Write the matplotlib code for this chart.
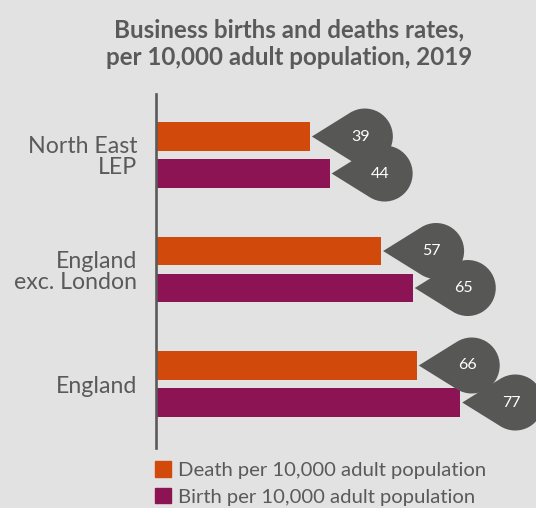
import numpy as np
import matplotlib.pyplot as plt
from matplotlib.path import Path
from matplotlib.patches import PathPatch, Patch
from matplotlib.transforms import ScaledTranslation

areas = ["North East\nLEP", "England\nexc. London", "England"]
deaths = [39, 57, 66]
births = [44, 65, 77]
legend_labels = ["Death per 10,000 adult population", "Birth per 10,000 adult population"]

BG = "#e2e2e2"
ORANGE = "#d24a0b"
PURPLE = "#8c1455"
BUBBLE = "#575756"
TEXT = "#5a5a5a"

plt.rcParams["font.family"] = ["Lato", "DejaVu Sans"]

W, H = 536, 508
fig = plt.figure(figsize=(W / 100, H / 100), dpi=100, facecolor=BG)
ax = fig.add_axes([155.5 / W, (H - 448) / H, 380 / W, 354 / H], facecolor=BG)

y = np.arange(len(areas))
off = 0.1616
bh = 0.253
ax.barh(y - off, deaths, height=bh, color=ORANGE, zorder=2)
ax.barh(y + off, births, height=bh, color=PURPLE, zorder=2)

ax.set_xlim(0, 96)
ax.set_ylim(2.559, -0.533)
for s in ["top", "right", "bottom"]:
    ax.spines[s].set_visible(False)
ax.spines["left"].set_color(TEXT)
ax.spines["left"].set_linewidth(1.9)
ax.spines["left"].set_zorder(3)
ax.set_xticks([])
ax.set_yticks(y)
ax.set_yticklabels(areas, fontsize=16.7, color=TEXT, linespacing=1.0)
ax.tick_params(axis="y", length=0, pad=13)

# teardrop callout: tip at origin, circle to the right (inches)
r, d = 0.28, 0.53
a = np.degrees(np.arccos(r / d))
arc = Path.arc(-(180 - a), 180 - a)
verts = [(0, 0)] + [(d + r * vx, r * vy) for vx, vy in arc.vertices] + [(0, 0)]
codes = [Path.MOVETO, Path.LINETO] + list(arc.codes[1:]) + [Path.CLOSEPOLY]
drop = Path(verts, codes)


def callout(val, ypos):
    tr = fig.dpi_scale_trans + ScaledTranslation(val + 0.5, ypos, ax.transData)
    ax.add_patch(PathPatch(drop, transform=tr, facecolor=BUBBLE,
                           edgecolor="none", clip_on=False, zorder=4))
    ax.annotate(str(val), (val + 0.5, ypos), xytext=(35, 0), textcoords="offset points",
                ha="center", va="center", color="white", fontsize=11.5, zorder=5)


for i in range(len(areas)):
    callout(deaths[i], y[i] - off)
    callout(births[i], y[i] + off)

fig.text(289 / W, 1 - 37 / H, "Business births and deaths rates,", ha="center",
         va="baseline", fontsize=17.4, fontweight="bold", color=TEXT)
fig.text(289 / W, 1 - 65 / H, "per 10,000 adult population, 2019", ha="center",
         va="baseline", fontsize=17.4, fontweight="bold", color=TEXT)

handles = [Patch(color=ORANGE), Patch(color=PURPLE)]
fig.legend(handles, legend_labels, loc="upper left", bbox_to_anchor=(155 / W, 1 - 461 / H),
           frameon=False, fontsize=14.6, labelcolor=TEXT, handlelength=0.8, handleheight=0.8,
           handletextpad=0.35, labelspacing=0.45, borderpad=0, borderaxespad=0)

fig.savefig("out.png", dpi=100, facecolor=BG)
